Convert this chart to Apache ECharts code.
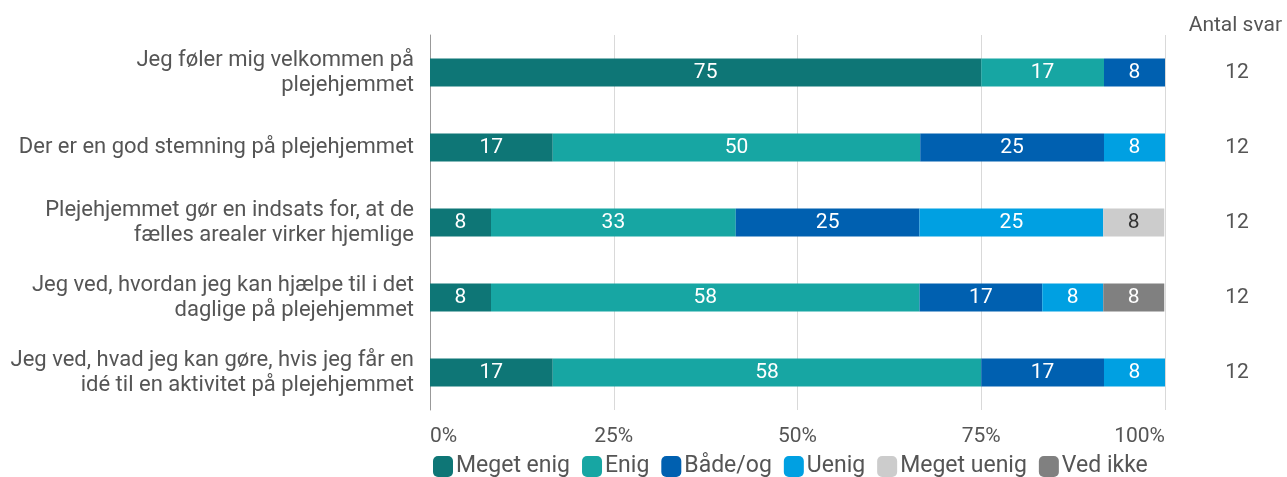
<!DOCTYPE html>
<html>
<head>
<meta charset="utf-8">
<script src="https://cdn.jsdelivr.net/npm/echarts@6/dist/echarts.min.js"></script>
<style>
  html, body { margin: 0; padding: 0; background: #fff; }
  #chart { width: 1287px; height: 477px; }
</style>
</head>
<body>
<div id="chart"></div>
<script>
// statements, top to bottom
const categories = [
  'Jeg føler mig velkommen på\nplejehjemmet',
  'Der er en god stemning på plejehjemmet',
  'Plejehjemmet gør en indsats for, at de\nfælles arealer virker hjemlige',
  'Jeg ved, hvordan jeg kan hjælpe til i det\ndaglige på plejehjemmet',
  'Jeg ved, hvad jeg kan gøre, hvis jeg får en\nidé til en aktivitet på plejehjemmet'
];
const antalSvar = [12, 12, 12, 12, 12];

// percentages per answer option (one value per statement)
const megetEnig  = [75, 16.7, 8.3, 8.3, 16.7];
const enig       = [16.7, 50, 33.3, 58.3, 58.3];
const baadeOg    = [8.3, 25, 25, 16.7, 16.7];
const uenig      = [0, 8.3, 25, 8.3, 8.3];
const megetUenig = [0, 0, 8.3, 0, 0];
const vedIkke    = [0, 0, 0, 8.3, 0];

const seriesDefs = [
  { name: 'Meget enig',  data: megetEnig,  color: '#0e7676', text: '#fff' },
  { name: 'Enig',        data: enig,       color: '#17a6a3', text: '#fff' },
  { name: 'Både/og',     data: baadeOg,    color: '#0060b0', text: '#fff' },
  { name: 'Uenig',       data: uenig,      color: '#00a0e2', text: '#fff' },
  { name: 'Meget uenig', data: megetUenig, color: '#cccccc', text: '#333' },
  { name: 'Ved ikke',    data: vedIkke,    color: '#808080', text: '#fff' }
];

const chart = echarts.init(document.getElementById('chart'));

chart.setOption({
  animation: false,
  textStyle: { fontFamily: 'Roboto' },
  title: {
    text: 'Antal svar',
    right: 0,
    top: 10,
    textStyle: { fontSize: 21, fontWeight: 'normal', color: '#555', fontFamily: 'Roboto' }
  },
  grid: { left: 430, right: 122, top: 35, bottom: 67 },
  legend: {
    left: 428,
    bottom: -6,
    itemWidth: 20,
    itemHeight: 21,
    itemGap: 12,
    icon: 'roundRect',
    textStyle: { fontSize: 23, color: '#555', padding: [0, 0, 0, -2] },
    data: seriesDefs.map(s => s.name)
  },
  xAxis: {
    type: 'value',
    min: 0,
    max: 100,
    interval: 25,
    axisLine: { show: false },
    axisTick: { show: false },
    axisLabel: {
      formatter: '{value}%', fontSize: 21, color: '#555', margin: 16,
      alignMinLabel: 'left', alignMaxLabel: 'right'
    },
    splitLine: { lineStyle: { color: '#d9d9d9', width: 1 } }
  },
  yAxis: [
    {
      type: 'category',
      inverse: true,
      data: categories,
      axisLine: { show: true, lineStyle: { color: '#999' } },
      axisTick: { show: false },
      axisLabel: { fontSize: 22, color: '#555', lineHeight: 25, margin: 16, align: 'right' }
    },
    {
      type: 'category',
      inverse: true,
      position: 'right',
      data: antalSvar.map(String),
      axisLine: { show: false },
      axisTick: { show: false },
      axisLabel: { fontSize: 21, color: '#555', margin: 72, align: 'center' }
    }
  ],
  series: seriesDefs.map(s => ({
    name: s.name,
    type: 'bar',
    stack: 'total',
    barWidth: 28,
    data: s.data,
    itemStyle: { color: s.color },
    label: {
      show: true,
      position: 'inside',
      fontSize: 21,
      color: s.text,
      formatter: p => (p.value > 0 ? Math.round(p.value) : '')
    }
  }))
});
</script>
</body>
</html>
